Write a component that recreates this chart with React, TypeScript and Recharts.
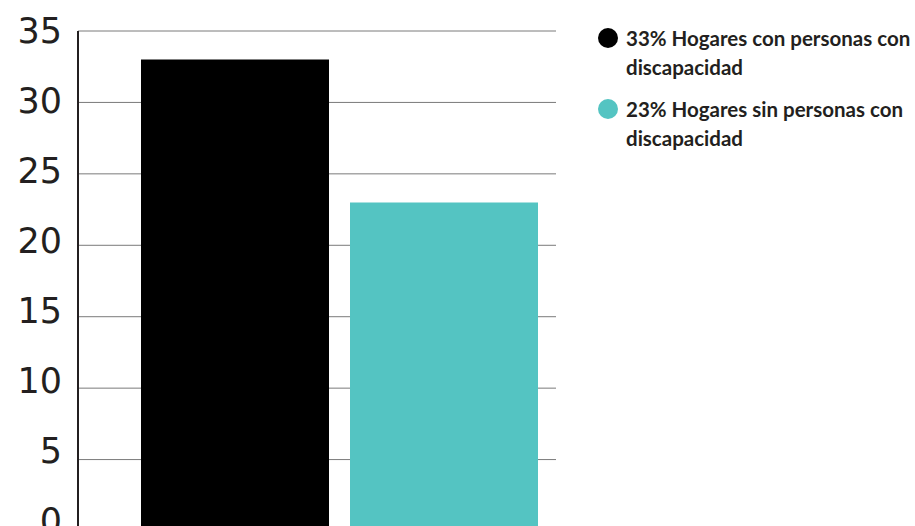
import { BarChart, Bar, XAxis, YAxis, CartesianGrid } from "recharts";

const categories = ["Hogares"];
const seriesNames = [
  "33% Hogares con personas con discapacidad",
  "23% Hogares sin personas con discapacidad",
];
const conDiscapacidad = [33];
const sinDiscapacidad = [23];
const yTicks = [0, 5, 10, 15, 20, 25, 30, 35];
const colors = ["#000000", "#54c4c2"];

const data = categories.map((c, i) => ({
  cat: c,
  con: conDiscapacidad[i],
  sin: sinDiscapacidad[i],
}));

const textColor = "#231f20";

// labels in the original drift slightly upward toward the bottom of the axis
const YTick = ({ x, y, payload }: any) => (
  <text
    x={x}
    y={y - (35 - payload.value) * 0.3}
    textAnchor="end"
    dominantBaseline="central"
    fill={textColor}
    fontSize={35}
    fontFamily="DejaVu Sans"
  >
    {payload.value}
  </text>
);

export default function App() {
  return (
    <div style={{ position: "absolute", left: 0, top: 0, width: 915, height: 526, overflow: "hidden", background: "#fff" }}>
      <BarChart
        width={915}
        height={560}
        data={data}
        margin={{ top: 31, right: 359, bottom: 29, left: 0 }}
        barSize={188}
        barGap={21}
      >
        <CartesianGrid vertical={false} stroke="#7a7a7a" strokeWidth={1} />
        <XAxis dataKey="cat" hide padding={{ left: 44, right: 0 }} />
        <YAxis
          width={78}
          domain={[0, 35]}
          ticks={yTicks}
          interval={0}
          tickLine={false}
          tickSize={0}
          tickMargin={16}
          axisLine={{ stroke: textColor, strokeWidth: 2 }}
          tick={<YTick />}
        />
        <Bar dataKey="con" fill={colors[0]} isAnimationActive={false} />
        <Bar dataKey="sin" fill={colors[1]} isAnimationActive={false} />
      </BarChart>
      <div style={{ position: "absolute", left: 598, top: 24, width: 325, fontFamily: "Lato", fontWeight: 700, fontSize: 20.5, lineHeight: "29px", color: textColor }}>
        {seriesNames.map((n, i) => (
          <div key={n} style={{ display: "flex", alignItems: "flex-start", marginBottom: 13 }}>
            <span style={{ display: "inline-block", width: 20, height: 20, borderRadius: 10, background: colors[i], marginTop: 4, marginRight: 8, flexShrink: 0 }} />
            <span style={{ width: 292 }}>{n}</span>
          </div>
        ))}
      </div>
    </div>
  );
}
